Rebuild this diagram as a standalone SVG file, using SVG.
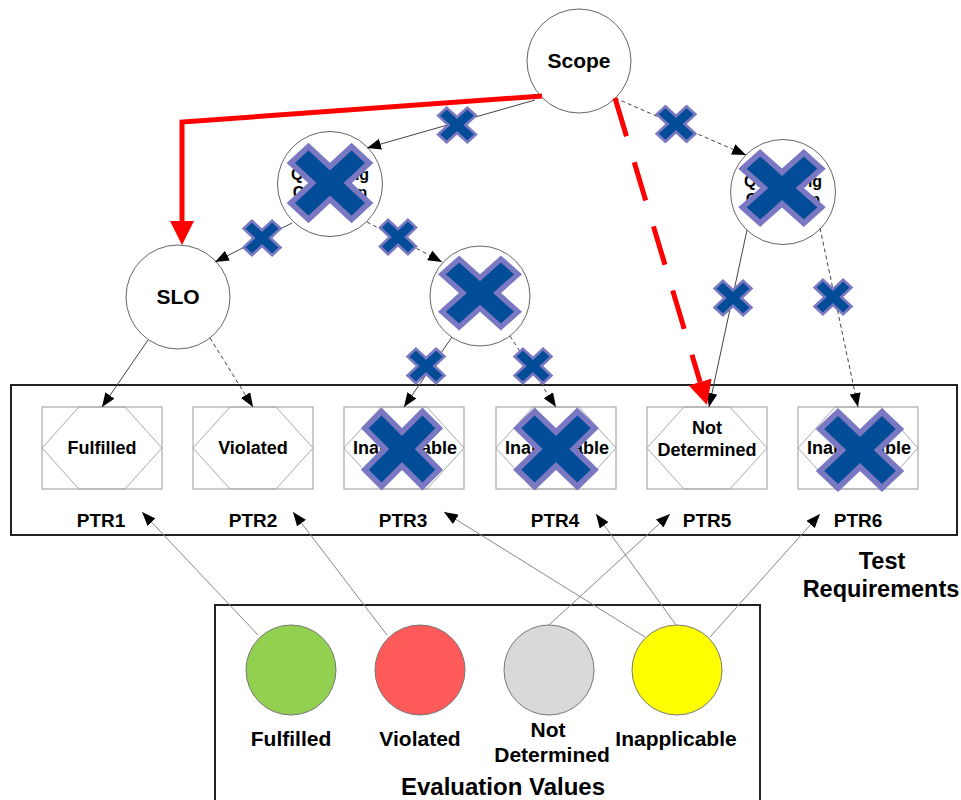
<svg xmlns="http://www.w3.org/2000/svg" xmlns:xlink="http://www.w3.org/1999/xlink" width="961" height="800" viewBox="0 0 961 800">
<style>
text{font-family:"Liberation Sans",Arial,sans-serif;font-weight:bold;fill:#000;text-anchor:middle}
.node{fill:#fff;stroke:#666;stroke-width:1}
.box{fill:#fff;stroke:#999;stroke-width:1}
.hex{fill:none;stroke:#aaa;stroke-width:1}
.c{fill:none;stroke:#444;stroke-width:1}
.d{fill:none;stroke:#444;stroke-width:1;stroke-dasharray:4,3}
.g{fill:none;stroke:#888;stroke-width:1}
.frame{fill:none;stroke:#222;stroke-width:2}
.xx{fill:#034C97;stroke:#7A78C2;stroke-width:6;stroke-linejoin:miter}
.ev{stroke:#777;stroke-width:1}
</style>
<defs>
<marker id="ah" viewBox="0 0 14 11" refX="14" refY="5.5" markerWidth="14" markerHeight="11" markerUnits="userSpaceOnUse" orient="auto"><path d="M0,0 L14,5.5 L0,11 z" fill="#000"/></marker>
<marker id="rh" viewBox="0 0 24 24" refX="0" refY="12" markerWidth="24" markerHeight="24" markerUnits="userSpaceOnUse" orient="auto"><path d="M0,0 L24,12 L0,24 z" fill="#f00"/></marker>
<polygon id="cross" class="xx" points="-40,-22 -22,-40 0,-18 22,-40 40,-22 18,0 40,22 22,40 0,18 -22,40 -40,22 -18,0"/>
<g id="hexbox">
<rect class="box" x="0" y="0" width="120" height="82"/>
<polygon class="hex" points="37,0 83,0 120,41 83,82 37,82 0,41"/>
</g>
</defs>

<!-- frames -->
<rect class="frame" x="11" y="385" width="946" height="150"/>
<rect class="frame" x="215" y="605" width="545" height="200"/>
<g id="label-test-req">
<text x="882" y="569" style="font-size:23.5px">Test</text>
<text x="881" y="597" style="font-size:23.5px">Requirements</text>
</g>

<!-- tree nodes -->
<g id="scope"><circle class="node" cx="579" cy="61" r="52"/><text x="579" y="68" style="font-size:21px">Scope</text></g>
<g id="qc1"><circle class="node" cx="330" cy="184" r="52.5"/><text x="330" y="180" style="font-size:16px">Qualifying</text><text x="330" y="198" style="font-size:16px">Condition</text></g>
<g id="qc2"><circle class="node" cx="783" cy="192" r="52.5"/><text x="783" y="187" style="font-size:16px">Qualifying</text><text x="783" y="205" style="font-size:16px">Condition</text></g>
<g id="slo"><circle class="node" cx="178" cy="297" r="52"/><text x="178" y="304" style="font-size:21px">SLO</text></g>
<g id="mid"><circle class="node" cx="480" cy="296" r="50"/></g>

<!-- PTR boxes -->
<g id="ptr1"><use xlink:href="#hexbox" href="#hexbox" x="42" y="407"/><text x="102" y="454" style="font-size:18px">Fulfilled</text><text x="101" y="527" style="font-size:19px">PTR1</text></g>
<g id="ptr2"><use xlink:href="#hexbox" href="#hexbox" x="193" y="407"/><text x="253" y="454" style="font-size:18px">Violated</text><text x="253" y="527" style="font-size:19px">PTR2</text></g>
<g id="ptr3"><use xlink:href="#hexbox" href="#hexbox" x="344" y="407"/><text x="405" y="454" style="font-size:18px">Inapplicable</text><text x="403" y="527" style="font-size:19px">PTR3</text></g>
<g id="ptr4"><use xlink:href="#hexbox" href="#hexbox" x="496" y="407"/><text x="557" y="454" style="font-size:18px">Inapplicable</text><text x="555" y="527" style="font-size:19px">PTR4</text></g>
<g id="ptr5"><use xlink:href="#hexbox" href="#hexbox" x="647" y="407"/><text x="707" y="434" style="font-size:18px">Not</text><text x="707" y="456" style="font-size:18px">Determined</text><text x="707" y="527" style="font-size:19px">PTR5</text></g>
<g id="ptr6"><use xlink:href="#hexbox" href="#hexbox" x="798" y="407"/><text x="859" y="454" style="font-size:18px">Inapplicable</text><text x="858" y="527" style="font-size:19px">PTR6</text></g>

<!-- evaluation values -->
<g id="ev-fulfilled"><circle class="ev" cx="291" cy="670" r="45" fill="#92D050"/><text x="291" y="746" style="font-size:21px">Fulfilled</text></g>
<g id="ev-violated"><circle class="ev" cx="420" cy="670" r="45" fill="#FF5A5A"/><text x="420" y="746" style="font-size:21px">Violated</text></g>
<g id="ev-notdet"><circle class="ev" cx="549" cy="670" r="45" fill="#D9D9D9"/><text x="548" y="737" style="font-size:21px">Not</text><text x="552" y="762" style="font-size:21px">Determined</text></g>
<g id="ev-inapp"><circle class="ev" cx="677" cy="670" r="45" fill="#FFFF00"/><text x="676" y="746" style="font-size:21px">Inapplicable</text></g>
<text x="503" y="795" style="font-size:24px">Evaluation Values</text>

<!-- connectors -->
<g id="connectors">
<line class="c" x1="535" y1="100" x2="367" y2="148" marker-end="url(#ah)"/>
<line class="d" x1="615" y1="98" x2="746" y2="155" marker-end="url(#ah)"/>
<line class="c" x1="292" y1="223" x2="215" y2="262" marker-end="url(#ah)"/>
<line class="d" x1="367" y1="222" x2="442" y2="262" marker-end="url(#ah)"/>
<line class="c" x1="148" y1="340" x2="102" y2="407" marker-end="url(#ah)"/>
<line class="d" x1="210" y1="338" x2="253" y2="407" marker-end="url(#ah)"/>
<line class="c" x1="452" y1="337" x2="404" y2="407" marker-end="url(#ah)"/>
<line class="d" x1="510" y1="336" x2="556" y2="407" marker-end="url(#ah)"/>
<line class="c" x1="747" y1="230" x2="709" y2="407" marker-end="url(#ah)"/>
<line class="d" x1="820" y1="228" x2="858" y2="407" marker-end="url(#ah)"/>
<line class="g" x1="258" y1="635" x2="142" y2="512" marker-end="url(#ah)"/>
<line class="g" x1="387" y1="635" x2="293" y2="512" marker-end="url(#ah)"/>
<line class="g" x1="549" y1="625" x2="670" y2="514" marker-end="url(#ah)"/>
<line class="g" x1="645" y1="637" x2="444" y2="512" marker-end="url(#ah)"/>
<line class="g" x1="676" y1="625" x2="596" y2="514" marker-end="url(#ah)"/>
<line class="g" x1="710" y1="637" x2="820" y2="514" marker-end="url(#ah)"/>
<path d="M542,96 L182,122 L182,221" fill="none" stroke="#f00" stroke-width="5" marker-end="url(#rh)"/>
<path d="M615,98 L700.1,382" fill="none" stroke="#f00" stroke-width="5" stroke-dasharray="40,27" marker-end="url(#rh)"/>
</g>

<!-- crosses -->
<g id="crosses">
<use href="#cross" xlink:href="#cross" transform="translate(330,183) scale(0.98,0.91)"/>
<use href="#cross" xlink:href="#cross" transform="translate(782,188) scale(0.99,0.88)"/>
<use href="#cross" xlink:href="#cross" transform="translate(480,293) scale(0.95,0.85)"/>
<use href="#cross" xlink:href="#cross" transform="translate(402,449) scale(0.93,0.94)"/>
<use href="#cross" xlink:href="#cross" transform="translate(556,449) scale(0.97,0.94)"/>
<use href="#cross" xlink:href="#cross" transform="translate(860,450) scale(1.0,0.95)"/>
<use href="#cross" xlink:href="#cross" transform="translate(457,125) scale(0.47,0.43)"/>
<use href="#cross" xlink:href="#cross" transform="translate(676,124) scale(0.48,0.44)"/>
<use href="#cross" xlink:href="#cross" transform="translate(262,238) scale(0.46,0.43)"/>
<use href="#cross" xlink:href="#cross" transform="translate(398,237) scale(0.45,0.43)"/>
<use href="#cross" xlink:href="#cross" transform="translate(426,366) scale(0.46,0.43)"/>
<use href="#cross" xlink:href="#cross" transform="translate(533,366) scale(0.46,0.43)"/>
<use href="#cross" xlink:href="#cross" transform="translate(733,298) scale(0.46,0.43)"/>
<use href="#cross" xlink:href="#cross" transform="translate(833,297) scale(0.46,0.43)"/>
</g>
</svg>
